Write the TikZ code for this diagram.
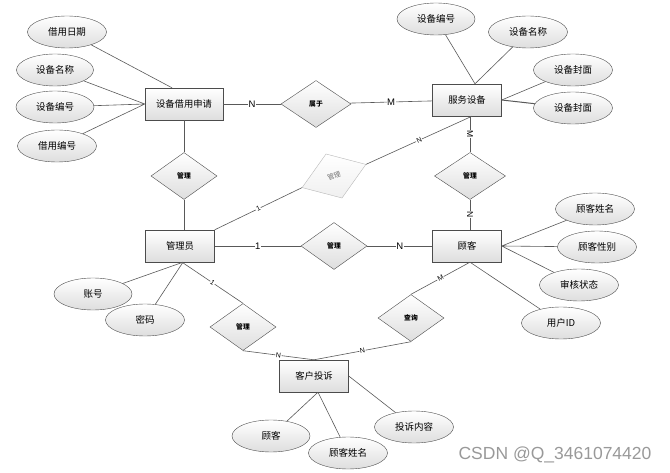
\documentclass[tikz,border=0pt]{standalone}
\usepackage{fontspec}
\newfontfamily\cjk{Noto Sans CJK SC}
\newfontfamily\latfont{Liberation Sans}
\usetikzlibrary{shapes.geometric}
\begin{document}
\begin{tikzpicture}[x=1pt,y=-1pt,
entity/.style={draw=black!70,rectangle,top color=white,bottom color=black!13,minimum width=69pt,minimum height=32pt,inner sep=0pt,font=\cjk\fontsize{9.3}{10}\selectfont},
attr/.style={draw=black!70,ellipse,top color=white,bottom color=black!13,minimum width=79pt,minimum height=32pt,inner sep=0pt,font=\cjk\fontsize{9.5}{10}\selectfont},
rel/.style={draw=black!70,diamond,top color=white,bottom color=black!13,minimum width=66pt,minimum height=47pt,inner sep=0pt,font=\cjk\bfseries\fontsize{6.8}{7}\selectfont},
lab/.style={fill=white,inner sep=0.6pt,font=\latfont\fontsize{9.5}{10}\selectfont},
slab/.style={lab,sloped,font=\latfont\fontsize{7}{7}\selectfont},
vlab/.style={lab,sloped,font=\latfont\fontsize{8.5}{9}\selectfont},
conn/.style={draw=black!65,line width=0.6pt}]
\useasboundingbox (0,0) rectangle (670,473);
\node[entity,minimum width=78pt](app) at (184,104){设备借用申请};
\node[entity](srv) at (467,100){服务设备};
\node[entity](admin) at (180,246){管理员};
\node[entity](cust) at (467,246){顾客};
\node[entity](cmp) at (314,376){客户投诉};
\node[rel,minimum width=70pt](belong) at (316,104){属于};
\node[rel](mgA) at (184,176){管理};
\node[rel,minimum width=71pt](mgB) at (470,176){管理};
\node[rel](mgC) at (334,246){管理};
\node[rel](mgD) at (243,327){管理};
\node[rel](ask) at (411,318){查询};
\node[rel,rotate=20,minimum width=68pt,minimum height=47pt,draw=black!28,bottom color=black!6,text=black!55,font=\cjk\fontsize{6.8}{7}\selectfont](mgE) at (334,176){管理};
\node[attr](a1) at (67,32){借用日期};
\node[attr,minimum width=77pt](a2) at (55,70){设备名称};
\node[attr,minimum width=78pt](a3) at (55,107){设备编号};
\node[attr](a4) at (57,146){借用编号};
\node[attr,minimum width=78pt](s1) at (436,19){设备编号};
\node[attr](s2) at (528,32){设备名称};
\node[attr](s3) at (573,70){设备封面};
\node[attr](s4) at (573,108){设备封面};
\node[attr](c1) at (595,209){顾客姓名};
\node[attr](c2) at (597,247){顾客性别};
\node[attr](c3) at (579,285){审核状态};
\node[attr](c4) at (561,323){用户ID};
\node[attr,minimum width=78pt](m1) at (93,294){账号};
\node[attr](m2) at (145,320){密码};
\node[attr,minimum width=78pt](p1) at (271,436){顾客};
\node[attr](p2) at (348,453){顾客姓名};
\node[attr](p3) at (414,427){投诉内容};
\node[text=black!40,font=\latfont\fontsize{17.5}{18}\selectfont,anchor=east](wm) at (655,455){CSDN @Q\_3461074420};
\draw[conn](app)--node[lab]{N}(belong);
\draw[conn](belong)--node[lab]{M}(srv);
\draw[conn](app)--(mgA)--(mgA.south |- admin.north);
\draw[conn](mgB.north |- srv.south)--node[vlab]{M}(mgB);
\draw[conn](mgB)--node[vlab]{N}(mgB.south |- cust.north);
\draw[conn](admin.north east)--node[slab]{1}(mgE.west);
\draw[conn](mgE.east)--node[slab]{N}([xshift=5pt]srv.south);
\draw[conn](admin)--node[lab]{1}(mgC);
\draw[conn](mgC)--node[lab]{N}(cust);
\draw[conn]([xshift=2pt]admin.south)--node[slab]{1}(mgD.north);
\draw[conn](mgD.south)--node[slab]{N}(cmp.north);
\draw[conn]([xshift=3pt]cust.south)--node[slab]{M}(ask.north);
\draw[conn](ask.south)--node[slab]{N}(cmp.north);
\draw[conn](a1)--([xshift=-12pt]app.north);
\draw[conn](a2)--(app.west) (a3)--(app.west) (a4)--(app.west);
\draw[conn](s1)--([xshift=8pt]srv.north) (s2)--([xshift=8pt]srv.north) (s3)--(srv.east);
\draw[conn,line width=1pt](s4)--(srv.east);
\draw[conn](c1)--(cust.east) (c2)--(cust.east) (c3)--(cust.east) (c4)--([xshift=3pt]cust.south);
\draw[conn](m1)--([xshift=3pt]admin.south) (m2)--([xshift=3pt]admin.south);
\draw[conn](p1)--([xshift=4pt]cmp.south) (p2)--([xshift=4pt]cmp.south) (p3)--(cmp.east);
\end{tikzpicture}
\end{document}
